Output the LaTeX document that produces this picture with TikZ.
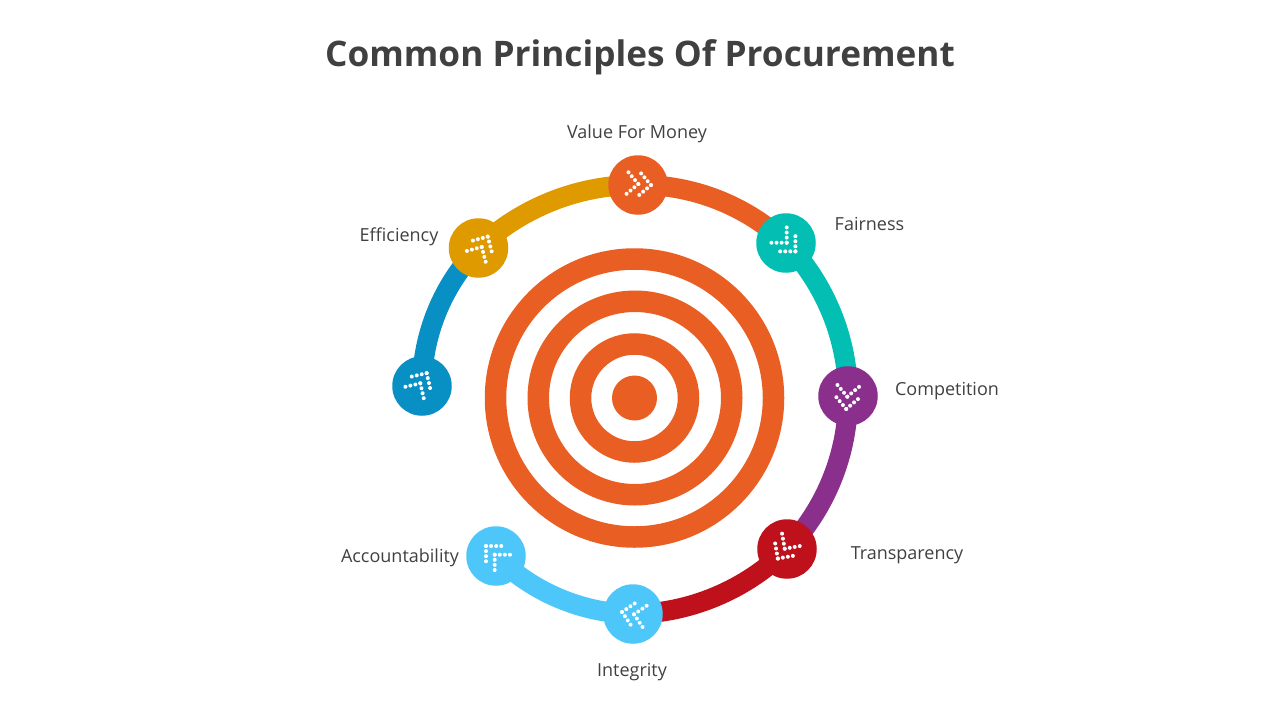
\documentclass[tikz,border=0pt]{standalone}
\usepackage{fontspec}
\setmainfont{Open Sans}
\usetikzlibrary{backgrounds}
\definecolor{cOrange}{HTML}{E95E22}
\definecolor{cAmber}{HTML}{DF9A00}
\definecolor{cBlue}{HTML}{088FC3}
\definecolor{cTeal}{HTML}{03BFB3}
\definecolor{cPurple}{HTML}{8A308C}
\definecolor{cRed}{HTML}{BE111C}
\definecolor{cSky}{HTML}{4DC6F9}
\definecolor{cText}{HTML}{404040}
\tikzset{
  x=1pt,y=-1pt,
  ring/.style={circle,draw=cOrange,line width=21.5pt,inner sep=0pt,outer sep=0pt,fill=none},
  disc/.style={circle,fill=#1,inner sep=0pt,outer sep=0pt,minimum size=59.5pt},
  arc/.style={draw=#1,line width=20pt,bend left=22,looseness=0.88},
  lbl/.style={text=cText,font=\fontsize{18pt}{22pt}\selectfont,inner sep=0pt},
  ttl/.style={text=cText,font=\fontsize{35.2pt}{42pt}\selectfont\bfseries,inner sep=0pt}
}
\newcommand{\dotarrow}[4]{%
  \begin{scope}[shift={(#1,#2)},rotate=-#3]
    \foreach \t in {0,#4}{
      \foreach \k in {0,1,2,3}{
        \fill[white] (\t-\k*3.6,\k*3.6) circle[radius=2pt];
        \fill[white] (\t-\k*3.6,-\k*3.6) circle[radius=2pt];
      }
    }
  \end{scope}}
\begin{document}
\begin{tikzpicture}
\useasboundingbox (0,0) rectangle (1280,720);
\node[ttl] (title) at (640,57.5) {Common Principles Of Procurement};
% target
\node[ring,minimum size=278pt] (r1) at (634.5,398) {};
\node[ring,minimum size=193.5pt] (r2) at (635,398) {};
\node[ring,minimum size=108pt] (r3) at (634.5,398) {};
\node[circle,fill=cOrange,inner sep=0pt,minimum size=45pt] (r4) at (634.5,398) {};
% discs
\node[disc=cOrange] (value) at (638,185) {};
\node[disc=cTeal] (fair) at (786,243) {};
\node[disc=cPurple] (comp) at (848,396) {};
\node[disc=cRed] (trans) at (787,549) {};
\node[disc=cSky] (integ) at (633,614) {};
\node[disc=cSky] (acc) at (496,556) {};
\node[disc=cAmber] (eff) at (478.5,248) {};
\node[disc=cBlue] (start) at (422,386) {};
% connectors
\begin{scope}[on background layer]
\path[arc=cBlue] (start.center) to (eff.center);
\path[arc=cAmber] (eff.center) to (value.center);
\path[arc=cOrange] (value.center) to (fair.center);
\path[arc=cTeal] (fair.center) to (comp.center);
\path[arc=cPurple] (comp.center) to (trans.center);
\path[arc=cRed] (trans.center) to (integ.center);
\path[arc=cSky] (integ.center) to (acc.center);
\end{scope}
% dotted chevrons
\dotarrow{638.3}{184}{5}{12.7}
\dotarrow{786.7}{242.7}{45}{12.3}
\dotarrow{847.3}{396.7}{95}{12.3}
\dotarrow{784.7}{548.7}{125}{12}
\dotarrow{634}{614.3}{191}{12.2}
\dotarrow{494.7}{554.7}{225}{12.3}
\dotarrow{481.7}{247}{300}{12}
\dotarrow{420.3}{383.3}{302}{12}
% labels
\node[lbl] (lv) at (637,134) {Value For Money};
\node[lbl] (lf) at (869.5,224) {Fairness};
\node[lbl] (lc) at (947,391) {Competition};
\node[lbl] (lt) at (907,555) {Transparency};
\node[lbl] (li) at (632,672) {Integrity};
\node[lbl] (la) at (400,558) {Accountability};
\node[lbl] (le) at (399,237) {Efficiency};
\end{tikzpicture}
\end{document}
